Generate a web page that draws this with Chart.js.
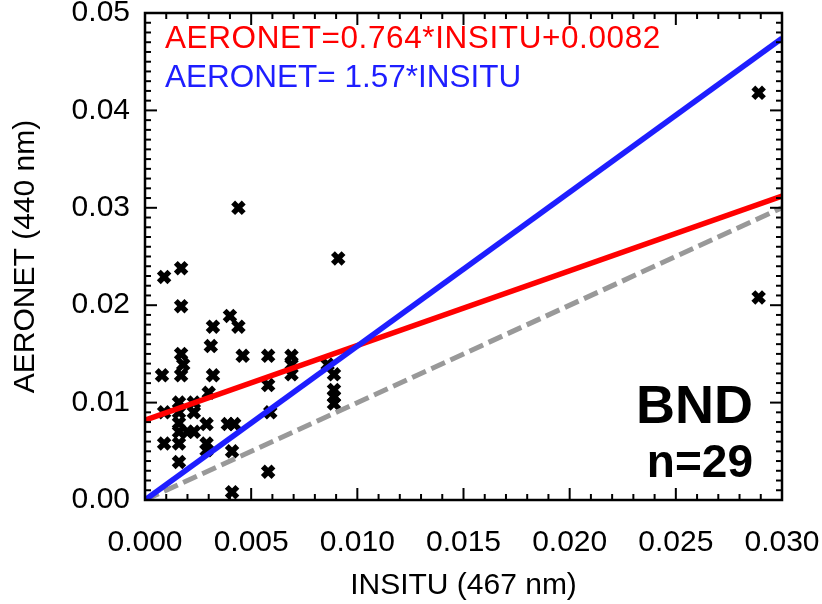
<!DOCTYPE html>
<html><head><meta charset="utf-8">
<script src="https://cdn.jsdelivr.net/npm/chart.js@4.4.1/dist/chart.umd.min.js"></script>
<style>html,body{margin:0;padding:0;background:#fff;}#wrap{width:822px;height:604px;}</style>
</head><body><div id="wrap"><canvas id="c" width="822" height="604"></canvas></div>
<script>
// ---- data ----
const insitu = [0.0044,0.0009,0.0017,0.0091,0.0017,0.0032,0.0040,0.0044,0.0031,0.0046,
                0.0017,0.0018,0.0017,0.0008,0.0032,0.0058,0.0069,0.0069,0.0069,0.0086,
                0.0089,0.0058,0.0030,0.0089,0.0089,0.0089,0.0016,0.0023,0.0009,0.0016,
                0.0023,0.0059,0.0016,0.0029,0.0039,0.0042,0.0016,0.0020,0.0023,0.0009,
                0.0016,0.0029,0.0029,0.0041,0.0016,0.0058,0.0041,0.0289,0.0289];
const aeronet = [0.0300,0.0229,0.0238,0.0248,0.0199,0.0178,0.0189,0.0178,0.0158,0.0148,
                 0.0150,0.0139,0.0128,0.0128,0.0128,0.0148,0.0148,0.0139,0.0129,0.0139,
                 0.0129,0.0118,0.0110,0.0113,0.0106,0.0099,0.0100,0.0100,0.0090,0.0090,
                 0.0090,0.0090,0.0079,0.0078,0.0078,0.0078,0.0070,0.0070,0.0070,0.0058,
                 0.0058,0.0058,0.0051,0.0050,0.0039,0.0029,0.0008,0.0418,0.0208];
const fitX = [0, 0.030];
const redFitY = [0.0082, 0.0312];
const blueFitY = [0, 0.0474];
const oneToOneY = [0, 0.030];
const xRange = [0, 0.030];
const yRange = [0, 0.050];
const xTickStep = 0.005, yTickStep = 0.01;
const xMinorStep = 0.001, yMinorStep = 0.001;
const xLabel = 'INSITU (467 nm)';
const yLabel = 'AERONET (440 nm)';
const redText = 'AERONET=0.764*INSITU+0.0082';
const blueText = 'AERONET= 1.57*INSITU';
const siteName = 'BND';
const countText = 'n=29';

const FONT = "'Liberation Sans', Arial, Helvetica, sans-serif";

const toPts = (xs, ys) => xs.map((v, i) => ({x: v, y: ys[i]}));

const framePlugin = {
  id: 'frame',
  afterDatasetsDraw(chart) {
    const {ctx, chartArea: a, scales: {x, y}} = chart;
    ctx.save();
    ctx.strokeStyle = '#000';
    ctx.lineWidth = 2;
    const seg = (x1, y1, x2, y2) => { ctx.beginPath(); ctx.moveTo(x1, y1); ctx.lineTo(x2, y2); ctx.stroke(); };
    const nx = Math.round((x.max - x.min) / xMinorStep);
    const perX = Math.round(xTickStep / xMinorStep);
    for (let i = 0; i <= nx; i++) {
      const px = x.getPixelForValue(x.min + i * xMinorStep);
      const len = (i % perX === 0) ? 12 : 6;
      seg(px, a.bottom, px, a.bottom - len);
      seg(px, a.top, px, a.top + len);
    }
    const ny = Math.round((y.max - y.min) / yMinorStep);
    const perY = Math.round(yTickStep / yMinorStep);
    for (let i = 0; i <= ny; i++) {
      const py = y.getPixelForValue(y.min + i * yMinorStep);
      const len = (i % perY === 0) ? 12 : 6;
      seg(a.left, py, a.left + len, py);
      seg(a.right, py, a.right - len, py);
    }
    ctx.lineWidth = 2.5;
    ctx.strokeRect(a.left, a.top, a.right - a.left, a.bottom - a.top);
    ctx.restore();
  },
  afterDraw(chart) {
    const {ctx, chartArea: a} = chart;
    ctx.save();
    ctx.textBaseline = 'alphabetic';
    ctx.textAlign = 'left';
    ctx.font = "31.5px " + FONT;
    ctx.fillStyle = '#ff0000';
    ctx.letterSpacing = '0.6px';
    ctx.fillText(redText, a.left + 20, 48);
    ctx.letterSpacing = '0px';
    ctx.fillStyle = 'rgb(30,30,255)';
    ctx.fillText(blueText, a.left + 20, 87);
    ctx.fillStyle = '#000';
    ctx.textAlign = 'right';
    ctx.font = "bold 54px " + FONT;
    ctx.fillText(siteName, 753, 423);
    ctx.font = "bold 46px " + FONT;
    ctx.fillText(countText, 753, 477);
    ctx.restore();
  }
};

new Chart(document.getElementById('c'), {
  type: 'scatter',
  data: {
    datasets: [
      {
        label: 'fit2', data: toPts(fitX, blueFitY), showLine: true, order: 0,
        borderColor: 'rgb(30,30,255)', borderWidth: 5.5, pointRadius: 0, fill: false
      },
      {
        label: 'fit1', data: toPts(fitX, redFitY), showLine: true, order: 1,
        borderColor: '#ff0000', borderWidth: 5.5, pointRadius: 0, fill: false
      },
      {
        label: '1:1', data: toPts(fitX, oneToOneY), showLine: true, order: 2,
        borderColor: '#999999', borderWidth: 5, borderDash: [15, 6], pointRadius: 0, fill: false
      },
      {
        label: 'obs', data: toPts(insitu, aeronet), order: 3,
        pointStyle: 'crossRot', pointRadius: 7.5, pointBorderWidth: 5.5,
        borderColor: '#000', backgroundColor: '#000', showLine: false
      }
    ]
  },
  options: {
    responsive: false,
    animation: false,
    devicePixelRatio: 1,
    layout: {padding: {left: 0, right: 40, top: 10, bottom: 0}},
    plugins: {legend: {display: false}, tooltip: {enabled: false}},
    scales: {
      x: {
        type: 'linear', min: xRange[0], max: xRange[1],
        grid: {display: false, drawTicks: false},
        border: {display: false},
        ticks: {
          stepSize: xTickStep, padding: 25, color: '#000', maxRotation: 0,
          font: {family: FONT, size: 30},
          callback: v => Number(v).toFixed(3)
        },
        title: {display: true, text: xLabel, color: '#000', font: {family: FONT, size: 30}, padding: {top: 0, bottom: 0}},
        afterFit(s) { s.height = 104; s.paddingLeft = 0; s.paddingRight = 0; }
      },
      y: {
        type: 'linear', min: yRange[0], max: yRange[1],
        grid: {display: false, drawTicks: false},
        border: {display: false},
        ticks: {
          stepSize: yTickStep, padding: 15, color: '#000',
          font: {family: FONT, size: 30},
          callback: v => Number(v).toFixed(2)
        },
        title: {display: true, text: yLabel, color: '#000', font: {family: FONT, size: 30}, padding: {top: 8, bottom: 0}},
        afterFit(s) { s.width = 145; s.paddingTop = 0; s.paddingBottom = 0; }
      }
    }
  },
  plugins: [framePlugin]
});
</script>
</body></html>
